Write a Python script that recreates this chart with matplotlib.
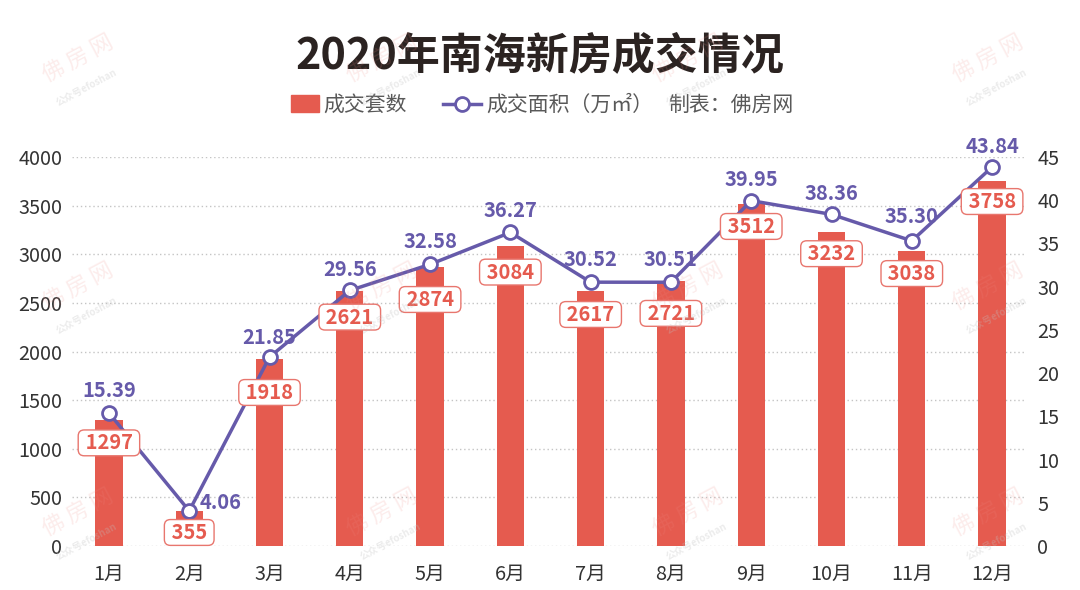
import matplotlib
matplotlib.use('Agg')
import matplotlib.pyplot as plt
import matplotlib.patches as mpatches
from matplotlib.lines import Line2D
from matplotlib.legend_handler import HandlerPatch
import numpy as np

plt.rcParams['font.family'] = ['Noto Sans CJK SC', 'DejaVu Sans']

# ---------------- data ----------------
months = ['1月', '2月', '3月', '4月', '5月', '6月', '7月', '8月', '9月', '10月', '11月', '12月']
units = [1297, 355, 1918, 2621, 2874, 3084, 2617, 2721, 3512, 3232, 3038, 3758]
area = [15.39, 4.06, 21.85, 29.56, 32.58, 36.27, 30.52, 30.51, 39.95, 38.36, 35.30, 43.84]
left_ticks = [0, 500, 1000, 1500, 2000, 2500, 3000, 3500, 4000]
right_ticks = [0, 5, 10, 15, 20, 25, 30, 35, 40, 45]
title = '2020年南海新房成交情况'
legend_labels = ['成交套数', '成交面积（万㎡）']
credit = '制表：佛房网'
wm_main = '佛 房 网'
wm_sub = '公众号efoshan'

# ---------------- style ----------------
BAR = '#E55B4F'
LINE = '#665AAA'
TXT = '#333333'
LEG = '#595959'
W, H = 1080, 590
PX = 72 / 100  # pixels -> points

# label offsets (pixels) for annotations
bar_lab_off = [23, 21, 33, 26, 33, 26, 23, 32, 22, 22, 23, 21]
line_lab_off = [(0, 22), (10, 8), (0, 20), (0, 21), (0, 23), (0, 22), (0, 23), (0, 23),
                (0, 21), (0, 21), (0, 24), (0, 21)]

fig = plt.figure(figsize=(W / 100, H / 100), dpi=100)
ax = fig.add_axes([72 / W, 44 / H, 953 / W, 389 / H])
x = np.arange(len(months))

ax.bar(x, units, width=0.34, color=BAR, zorder=2)
ax.set_xlim(-0.46, 11.41)
ax.set_ylim(0, 4000)
ax.set_yticks(left_ticks)
ax.set_xticks(x, months)
ax.grid(axis='y', linestyle=(0, (1, 2)), color='#c4c4c4', lw=1)
ax.set_axisbelow(True)
for s in ax.spines.values():
    s.set_visible(False)
ax.tick_params(length=0, labelsize=14.3, colors=TXT)
ax.tick_params(axis='y', pad=7)
ax.tick_params(axis='x', pad=13)

ax2 = ax.twinx()
ax2.set_ylim(0, 45)
ax2.set_yticks(right_ticks)
for s in ax2.spines.values():
    s.set_visible(False)
ax2.tick_params(length=0, labelsize=14.3, colors=TXT, pad=9)
ax2.plot(x, area, color=LINE, lw=2.5, marker='o', ms=10, mfc='white',
         mec=LINE, mew=2, zorder=3)

# bar value labels (drawn over the line)
for i, v in enumerate(units):
    ax2.annotate(' %d ' % v, xy=(i, v), xycoords=ax.transData,
                 xytext=(0, -bar_lab_off[i] * PX), textcoords='offset points',
                 ha='center', va='center', fontsize=14.5, fontweight='bold',
                 color=BAR, zorder=6,
                 bbox=dict(boxstyle='round,pad=0.12,rounding_size=0.3',
                           fc='white', ec='#E8766E', lw=1))

# line value labels
for i, v in enumerate(area):
    dx, dy = line_lab_off[i]
    ax2.annotate('%.2f' % v, xy=(i, v), xytext=(dx * PX, dy * PX),
                 textcoords='offset points', ha='left' if dx else 'center',
                 va='center', fontsize=14.5, fontweight='bold', color=LINE, zorder=6)

# title
fig.text(0.5, 1 - 55 / H, title, ha='center', va='center', fontsize=31,
         fontweight='bold', color='#2B2321')


# legend
def rect_func(legend, orig_handle, xdescent, ydescent, width, height, fontsize):
    w = 1.3 * fontsize
    h = 0.82 * fontsize
    return mpatches.Rectangle((-xdescent + width - w, -ydescent + (height - h) / 2), w, h)


handles = [mpatches.Patch(color=BAR),
           Line2D([], [], color=LINE, lw=2.5, marker='o', ms=10, mfc='white', mec=LINE, mew=2)]
fig.legend(handles, legend_labels, loc='center left', bbox_to_anchor=(280 / W, 1 - 105 / H),
           ncol=2, frameon=False, fontsize=15, handlelength=1.85, handletextpad=0.25,
           columnspacing=1.7, borderpad=0, borderaxespad=0, labelcolor=LEG,
           handler_map={mpatches.Patch: HandlerPatch(patch_func=rect_func)})
fig.text(668 / W, 1 - 105 / H, credit, ha='left', va='center', fontsize=15, color=LEG)

# watermarks
for cy in [58, 286, 512]:
    for cx in [78, 382, 688, 988]:
        fig.text(cx / W, 1 - cy / H, wm_main, rotation=28, ha='center', va='center',
                 fontsize=16, color='#EE8A84', alpha=0.16,
                 rotation_mode='anchor', zorder=10)
        fig.text((cx + 9) / W, 1 - (cy + 30) / H, wm_sub, rotation=28, ha='center',
                 va='center', fontsize=7, fontweight='bold', color='#C0C0C0', alpha=0.3,
                 rotation_mode='anchor', zorder=10)

fig.savefig('out.png', dpi=100)
